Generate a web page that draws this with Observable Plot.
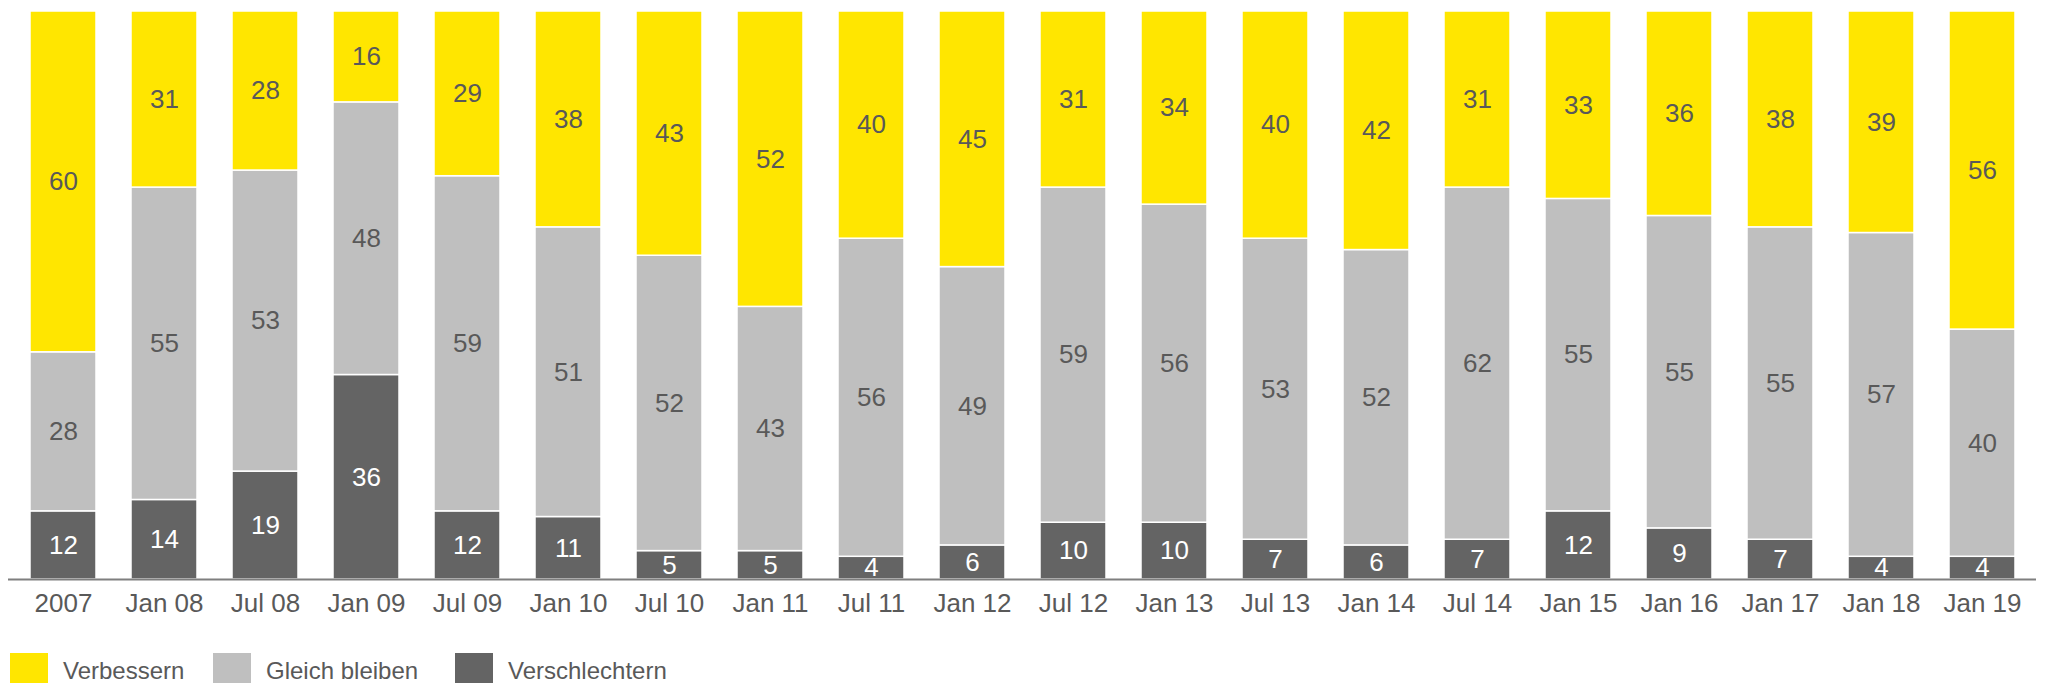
<!DOCTYPE html>
<html>
<head>
<meta charset="utf-8">
<script src="https://cdn.jsdelivr.net/npm/d3@7"></script>
<script src="https://cdn.jsdelivr.net/npm/@observablehq/plot@0.6"></script>
<style>
  html, body { margin: 0; padding: 0; background: #fff; overflow: hidden; }
  #wrap { position: relative; width: 2047px; height: 683px; font-family: "Liberation Sans", Arial, sans-serif; }
  .item { position: absolute; top: 653px; height: 38px; display: flex; align-items: flex-start; }
  .sw { width: 38px; height: 38px; }
  .lab { position: absolute; top: 4px; font-size: 24px; color: #595959; white-space: nowrap; line-height: 28px; }
</style>
</head>
<body>
<div id="wrap"></div>
<script>
const categories = ["2007","Jan 08","Jul 08","Jan 09","Jul 09","Jan 10","Jul 10","Jan 11","Jul 11","Jan 12","Jul 12","Jan 13","Jul 13","Jan 14","Jul 14","Jan 15","Jan 16","Jan 17","Jan 18","Jan 19"];
const verbessern     = [60,31,28,16,29,38,43,52,40,45,31,34,40,42,31,33,36,38,39,56];
const gleichBleiben  = [28,55,53,48,59,51,52,43,56,49,59,56,53,52,62,55,55,55,57,40];
const verschlechtern = [12,14,19,36,12,11, 5, 5, 4, 6,10,10, 7, 6, 7,12, 9, 7, 4, 4];
const seriesNames  = ["Verbessern","Gleich bleiben","Verschlechtern"];
const seriesColors = ["#FFE600","#BFBFBF","#646464"];
const stackOrder   = ["Verschlechtern","Gleich bleiben","Verbessern"];

const seriesValues = {"Verbessern": verbessern, "Gleich bleiben": gleichBleiben, "Verschlechtern": verschlechtern};
const data = [];
for (const s of stackOrder) {
  categories.forEach((c, i) => data.push({cat: c, series: s, value: seriesValues[s][i]}));
}

const chart = Plot.plot({
  width: 2047,
  height: 640,
  marginTop: 11,
  marginBottom: 61,
  marginLeft: 8,
  marginRight: 11,
  style: {fontFamily: "'Liberation Sans', Arial, sans-serif", fontSize: "26px", color: "#595959", background: "#fff"},
  x: {domain: categories, paddingInner: 0.349, paddingOuter: 0.178, label: null, tickSize: 0, tickPadding: 14},
  y: {domain: [0, 100], axis: null},
  color: {domain: seriesNames, range: seriesColors},
  marks: [
    Plot.barY(data, {x: "cat", y: "value", z: "series", order: stackOrder, fill: "series", stroke: "white", strokeWidth: 1.5}),
    Plot.text(data, Plot.stackY({x: "cat", y: "value", z: "series", order: stackOrder,
      text: d => d.series === "Verschlechtern" ? null : String(d.value), fill: "#595959", fontSize: 26})),
    Plot.text(data, Plot.stackY({x: "cat", y: "value", z: "series", order: stackOrder,
      text: d => d.series === "Verschlechtern" ? String(d.value) : null, fill: "white", fontSize: 26})),
    Plot.ruleY([0], {stroke: "#7f7f7f", strokeWidth: 2})
  ]
});

const wrap = document.getElementById("wrap");
wrap.appendChild(chart);

const legendPos = [10, 213, 455];
seriesNames.forEach((s, i) => {
  const item = document.createElement("div");
  item.className = "item";
  item.style.left = legendPos[i] + "px";
  const sw = document.createElement("div");
  sw.className = "sw";
  sw.style.background = seriesColors[i];
  const lab = document.createElement("span");
  lab.className = "lab";
  lab.style.left = "53px";
  lab.textContent = s;
  item.appendChild(sw);
  item.appendChild(lab);
  wrap.appendChild(item);
});
</script>
</body>
</html>
